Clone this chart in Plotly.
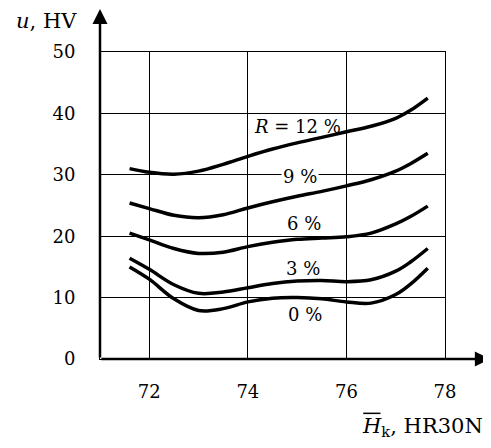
import plotly.graph_objects as go

hk = [71.6, 72.0, 72.5, 73.0, 73.5, 74.0, 74.5, 75.0, 75.5, 76.0, 76.5, 77.0, 77.3, 77.65]
u_r0 = [15.0, 13.0, 9.8, 7.9, 8.2, 9.3, 9.9, 10.0, 9.8, 9.3, 9.1, 10.5, 12.2, 14.8]
u_r3 = [16.4, 14.6, 12.1, 10.7, 10.9, 11.6, 12.3, 12.7, 12.8, 12.6, 12.9, 14.3, 15.8, 18.0]
u_r6 = [20.5, 19.4, 18.0, 17.2, 17.4, 18.3, 19.0, 19.5, 19.7, 19.9, 20.5, 22.0, 23.2, 24.9]
u_r9 = [25.4, 24.5, 23.4, 23.0, 23.5, 24.6, 25.6, 26.5, 27.3, 28.2, 29.2, 30.6, 31.8, 33.5]
u_r12 = [31.0, 30.4, 30.1, 30.6, 31.7, 33.0, 34.2, 35.2, 36.1, 37.0, 37.9, 39.2, 40.5, 42.5]

series = [u_r0, u_r3, u_r6, u_r9, u_r12]
labels = ["0 %", "3 %", "6 %", "9 %", "<i>R</i> = 12 %"]
label_x = [75.16, 75.12, 75.14, 75.06, 75.0]
label_y = [7.2, 14.8, 22.0, 29.8, 37.8]
label_bg = [None, None, "white", "white", None]

x_ticks = [72, 74, 76, 78]
y_ticks = [0, 10, 20, 30, 40, 50]

FONT = "DejaVu Serif"
FS = 18
FS_T = 21

fig = go.Figure()
for ys in series:
    fig.add_trace(go.Scatter(x=hk, y=ys, mode="lines",
                             line=dict(color="black", width=3.5, shape="spline", smoothing=1.0),
                             showlegend=False, hoverinfo="skip"))

for t, lx, ly, bg in zip(labels, label_x, label_y, label_bg):
    fig.add_annotation(x=lx, y=ly, text=t, showarrow=False,
                       font=dict(family=FONT, size=FS, color="black"),
                       bgcolor=bg if bg else "rgba(0,0,0,0)", borderpad=1)

# axes with arrows
fig.add_annotation(x=1.13, y=0, xref="paper", yref="paper", ax=-390, ay=0,
                   text="", showarrow=True, arrowhead=2, arrowsize=1.2, arrowwidth=2.5,
                   arrowcolor="black")
fig.add_annotation(x=0, y=1.14, xref="paper", yref="paper", ax=0, ay=350,
                   text="", showarrow=True, arrowhead=2, arrowsize=1.2, arrowwidth=2.5,
                   arrowcolor="black")

# axis titles
fig.add_annotation(x=-0.064, y=1.101, xref="paper", yref="paper", xanchor="right", yanchor="middle",
                   text="<i>u</i>, HV", showarrow=False, borderpad=0,
                   font=dict(family=FONT, size=FS_T, color="black"))
fig.add_annotation(x=0.754, y=-0.22, xref="paper", yref="paper", xanchor="left", yanchor="middle",
                   text="<i>H</i><sub>k</sub>, HR30N", showarrow=False,
                   font=dict(family=FONT, size=FS_T, color="black"))
# overline over H
fig.add_shape(type="line", xref="paper", yref="paper", x0=0.763, x1=0.813, y0=-0.177, y1=-0.177,
              line=dict(color="black", width=1.5))

fig.update_xaxes(range=[71, 78], tickvals=x_ticks, showgrid=True, gridcolor="black", gridwidth=1,
                 showline=True, mirror=True, linecolor="black", linewidth=1,
                 zeroline=False, ticks="", ticklabelstandoff=16, automargin=False,
                 tickfont=dict(family=FONT, size=FS, color="black"))
fig.update_yaxes(range=[0, 50], tickvals=y_ticks, showgrid=True, gridcolor="black", gridwidth=1,
                 showline=True, mirror=True, linecolor="black", linewidth=1,
                 zeroline=False, ticks="", ticklabelstandoff=20, automargin=False,
                 tickfont=dict(family=FONT, size=FS, color="black"))

# page body has an 8px margin, so the figure is shrunk and shifted accordingly
fig.update_layout(width=483, height=440, margin=dict(l=92, r=46, t=44, b=89),
                  plot_bgcolor="white", paper_bgcolor="white")

fig.write_html("out.html")
